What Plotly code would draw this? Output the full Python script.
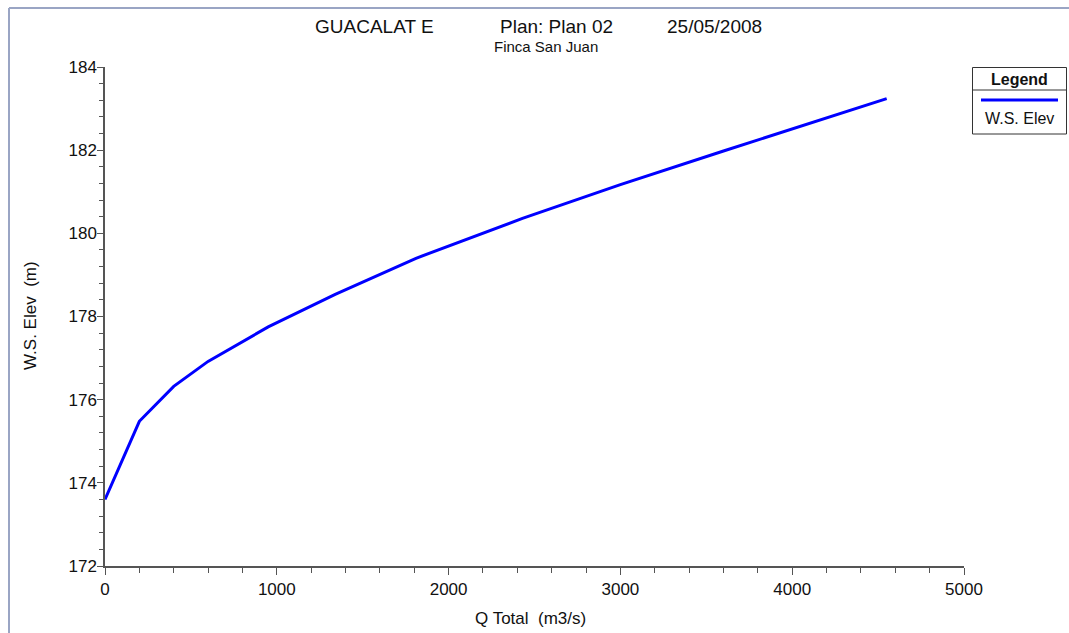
import plotly.graph_objects as go

# ---- data ----
q_total = [0, 200, 400, 600, 950, 1340, 1810, 2430, 3000, 3600, 4550]
ws_elev = [173.60, 175.48, 176.32, 176.92, 177.75, 178.53, 179.40, 180.36, 181.17, 181.98, 183.24]

series_name = "W.S. Elev"
title_parts = ["GUACALAT E", "Plan: Plan 02", "25/05/2008"]
subtitle = "Finca San Juan"
x_title = "Q Total  (m3/s)"
y_title = "W.S. Elev  (m)"
x_ticks = [0, 1000, 2000, 3000, 4000, 5000]
y_ticks = [172, 174, 176, 178, 180, 182, 184]

# ---- layout geometry (pixels) ----
W, H = 1069, 633
L, R, T, B = 105, 105, 67, 67
PW, PH = W - L - R, H - T - B


def px2x(p):
    return (p - L) / PW


def px2y(p):
    return (H - B - p) / PH


FONT = "Liberation Sans, Arial, sans-serif"
AX = "#555555"

fig = go.Figure()
fig.add_trace(go.Scatter(
    x=q_total, y=ws_elev, mode="lines", name=series_name,
    line=dict(color="#0000FF", width=3), showlegend=False,
))

axis_common = dict(
    showgrid=False, zeroline=False, showline=True, linecolor=AX, linewidth=1.5,
    ticks="outside", tickcolor=AX, tickwidth=1,
    tickfont=dict(family=FONT, size=17, color="#111111"),
)

fig.update_xaxes(
    range=[0, 5000], tickvals=x_ticks, tickformat="d", ticklen=7,
    minor=dict(dtick=200, ticks="outside", ticklen=5, tickcolor=AX, tickwidth=1, showgrid=False),
    **axis_common,
)
fig.update_yaxes(
    range=[172, 184], tickvals=y_ticks, tickformat="d", ticklen=6,
    ticklabelstandoff=-3,
    minor=dict(dtick=0.4, ticks="outside", ticklen=4, tickcolor=AX, tickwidth=1, showgrid=False),
    **axis_common,
)

annotations = []
# title pieces
for text, cx in zip(title_parts, [374.5, 556, 714]):
    annotations.append(dict(
        text=text, x=px2x(cx), y=px2y(27), xref="paper", yref="paper",
        xanchor="center", yanchor="middle", showarrow=False,
        font=dict(family=FONT, size=19, color="#111111"),
    ))
annotations.append(dict(
    text=subtitle, x=px2x(545.5), y=px2y(47), xref="paper", yref="paper",
    xanchor="center", yanchor="middle", showarrow=False,
    font=dict(family=FONT, size=15, color="#111111"),
))
# axis titles
annotations.append(dict(
    text=x_title, x=px2x(530), y=px2y(618), xref="paper", yref="paper",
    xanchor="center", yanchor="middle", showarrow=False,
    font=dict(family=FONT, size=17, color="#111111"),
))
annotations.append(dict(
    text=y_title, x=px2x(30), y=px2y(316), xref="paper", yref="paper",
    xanchor="center", yanchor="middle", showarrow=False, textangle=-90,
    font=dict(family=FONT, size=17, color="#111111"),
))
# legend texts
annotations.append(dict(
    text="<b>Legend</b>", x=px2x(1019.5), y=px2y(79), xref="paper", yref="paper",
    xanchor="center", yanchor="middle", showarrow=False,
    font=dict(family=FONT, size=16, color="#111111"),
))
annotations.append(dict(
    text=series_name, x=px2x(1019.5), y=px2y(118.5), xref="paper", yref="paper",
    xanchor="center", yanchor="middle", showarrow=False,
    font=dict(family=FONT, size=16, color="#111111"),
))

shapes = [
    # outer window frame (top and left)
    dict(type="line", xref="paper", yref="paper", x0=px2x(9), x1=px2x(W + 5), y0=px2y(8), y1=px2y(8),
         line=dict(color="#9aa5c4", width=2)),
    dict(type="line", xref="paper", yref="paper", x0=px2x(9), x1=px2x(9), y0=px2y(8), y1=px2y(H + 5),
         line=dict(color="#9aa5c4", width=2)),
    # legend box
    dict(type="rect", xref="paper", yref="paper", x0=px2x(972.5), x1=px2x(1066.5), y0=px2y(67.5), y1=px2y(134),
         line=dict(color="#333333", width=1), fillcolor="white"),
    dict(type="line", xref="paper", yref="paper", x0=px2x(972.5), x1=px2x(1066.5), y0=px2y(90), y1=px2y(90),
         line=dict(color="#333333", width=1)),
    dict(type="line", xref="paper", yref="paper", x0=px2x(981), x1=px2x(1058), y0=px2y(100), y1=px2y(100),
         line=dict(color="#0000FF", width=3)),
]

fig.update_layout(
    width=W, height=H,
    margin=dict(l=L, r=R, t=T, b=B),
    paper_bgcolor="white", plot_bgcolor="white",
    annotations=annotations, shapes=shapes,
    showlegend=False,
)

fig.write_html("out.html")
